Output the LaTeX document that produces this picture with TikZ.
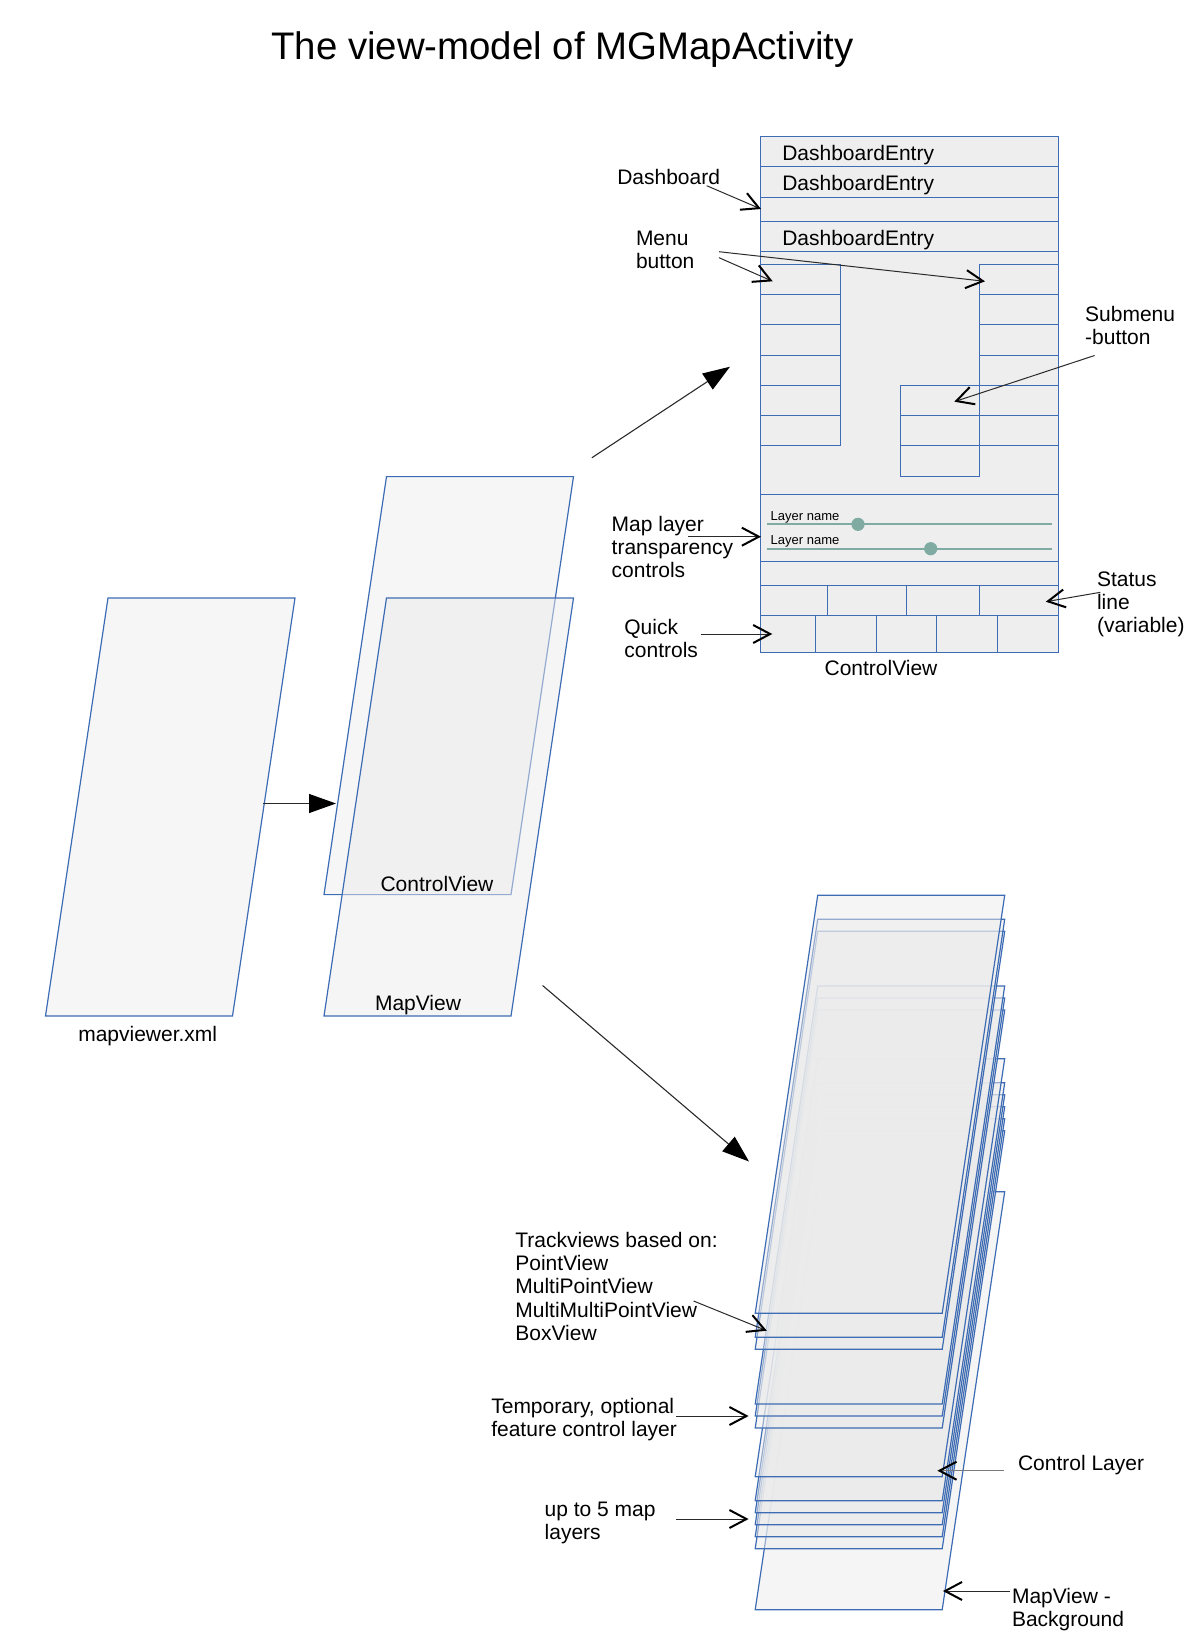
\documentclass[tikz,border=0pt]{standalone}
\usepackage{fontspec}
\setmainfont{Liberation Sans}
\usetikzlibrary{arrows.meta}

\definecolor{edgeblue}{HTML}{3E6CB4}
\definecolor{panelgray}{HTML}{EEEEEE}
\definecolor{sheetgray}{HTML}{F6F6F6}
\definecolor{glassgray}{HTML}{EBEBEB}
\definecolor{slidergreen}{HTML}{80ABA2}
\definecolor{shaftgray}{HTML}{2A2A2A}
\definecolor{softshaft}{HTML}{7A7A7A}

\tikzset{
  txt/.style={inner sep=0pt, outer sep=0pt, font=\fontsize{21}{23.4}\selectfont},
  % multi-line labels are placed by the baseline of their last line
  lbl/.style={txt, anchor=base west, align=left},
  ctr/.style={txt, anchor=base},
  small/.style={inner sep=0pt, outer sep=0pt, anchor=base west, font=\fontsize{13}{15}\selectfont},
  cell/.style={draw=edgeblue, line width=1pt},
  solidsheet/.style={draw=edgeblue, line width=1.2pt, fill=sheetgray},
  glasssheet/.style={draw=edgeblue, line width=1.2pt, fill=glassgray, fill opacity=0.5},
  pointer/.style={draw=shaftgray, line width=1pt,
     -{Straight Barb[length=17pt, width=18pt, line width=2pt, color=black]}},
  flow/.style={draw=shaftgray, line width=1.1pt,
     -{Triangle[length=27pt, width=19pt, color=black]}},
  pics/slab/.style={code={\path[#1] (0,0) -- (187,0) -- (124.5,418) -- (-62.5,418) -- cycle;}},
}

\begin{document}
\begin{tikzpicture}[x=1pt, y=-1pt]
\useasboundingbox (0,0) rectangle (1190,1642);

% heading
\node[ctr, font=\fontsize{38.4}{40}\selectfont] (title) at (562.5,59) {The view-model of MGMapActivity};

% ---------- ControlView screen layout ----------
\path[cell, fill=panelgray] (760.5,136) rectangle (1058,652);
\foreach \y in {166.7,197,221,251.3,494,561,585.3,615.7}
  \draw[cell] (760.5,\y) -- (1058,\y);
% menu columns
\draw[cell] (760.5,264) rectangle (840,445.7);
\draw[cell] (979.5,264) rectangle (1058,445.7);
\foreach \y in {294,324.3,355,385.3,415.7} {
  \draw[cell] (760.5,\y) -- (840,\y);
  \draw[cell] (979.5,\y) -- (1058,\y);
}
% submenu
\draw[cell] (900.3,385.3) rectangle (979.5,476);
\foreach \y in {415.7,445.7}
  \draw[cell] (900.3,\y) -- (979.5,\y);
% status line and quick controls
\foreach \x in {827.6,906.6,979.5}
  \draw[cell] (\x,585.3) -- (\x,615.7);
\foreach \x in {815.2,876.5,936.7,997.3}
  \draw[cell] (\x,615.7) -- (\x,652);

\node[lbl] (entryA) at (782.3,160.7) {DashboardEntry};
\node[lbl] (entryB) at (782.3,190) {DashboardEntry};
\node[lbl] (entryC) at (782.3,245) {DashboardEntry};

% transparency sliders
\node[small] (layerA) at (770.7,520) {Layer name};
\node[small] (layerB) at (770.7,544.3) {Layer name};
\draw[slidergreen, line width=2pt] (767.3,524.3) -- (1052,524.3);
\draw[slidergreen, line width=2pt] (767.3,548.7) -- (1052,548.7);
\fill[slidergreen] (858,524.3) circle (6.6);
\fill[slidergreen] (930.7,548.7) circle (6.6);

\node[ctr] (cvcaption) at (881,675) {ControlView};

% ---------- layout file and its two views ----------
\pic (xmlsheet) at (108,598) {slab={solidsheet}};
\node[ctr] (xmlname) at (147.7,1041.5) {mapviewer.xml};

\pic (cvsheet) at (386.5,476.6) {slab={solidsheet}};
\pic (mvsheet) at (386.5,598) {slab={glasssheet}};
\node[ctr] (cvname) at (437,891.5) {ControlView};
\node[ctr] (mvname) at (418,1010) {MapView};

% ---------- MapView layer stack (back to front) ----------
\foreach \t in {1191.7,1130.7,1118.7,1106.7,1094.7,1082.7,1058.7,1010,998,986,931.3,919.3,895.3}
  \pic at (817.7,\t) {slab={glasssheet}};

% ---------- flow arrows ----------
\coordinate (xmlout) at (263,803.5);
\coordinate (viewsin) at (336,803.5);
\coordinate (cvout) at (591.8,457.8);
\coordinate (panelin) at (730,366.7);
\coordinate (mvout) at (542.6,985.5);
\coordinate (stackin) at (749,1161.5);
\draw[flow] (xmlout) -- (viewsin);
\draw[flow] (cvout) -- (panelin);
\draw[flow] (mvout) -- (stackin);

% ---------- annotations of the screen ----------
\node[lbl] (dashlbl) at (617.3,184.3) {Dashboard};
\coordinate (dashfrom) at (706.7,185.7);
\coordinate (dashtip) at (761,209);
\draw[pointer] (dashfrom) -- (dashtip);

\node[lbl] (menulbl) at (636,268.4) {Menu\\button};
\coordinate (menufromA) at (719,251.7);
\coordinate (menufromB) at (719,257.7);
\coordinate (menutipA) at (985,281.3);
\coordinate (menutipB) at (772.7,281.3);
\draw[pointer] (menufromA) -- (menutipA);
\draw[pointer] (menufromB) -- (menutipB);

\node[lbl] (sublbl) at (1085.2,344.9) {Submenu\\-button};
\coordinate (subfrom) at (1094.6,355.5);
\coordinate (subtip) at (954.3,401.7);
\draw[pointer] (subfrom) -- (subtip);

\node[lbl] (maplbl) at (611.7,577.8) {Map layer\\transparency\\controls};
\coordinate (mapfrom) at (688.4,536.7);
\coordinate (maptip) at (761,536.7);
\draw[pointer] (mapfrom) -- (maptip);

\node[lbl] (statlbl) at (1097,632.8) {Status\\line\\(variable)};
\coordinate (statfrom) at (1100.4,592.3);
\coordinate (stattip) at (1045.8,601.7);
\draw[pointer] (statfrom) -- (stattip);

\node[lbl] (quicklbl) at (624.4,657.4) {Quick\\controls};
\coordinate (quickfrom) at (700.8,634);
\coordinate (quicktip) at (772.3,634);
\draw[pointer] (quickfrom) -- (quicktip);

% ---------- annotations of the layer stack ----------
\node[lbl] (tracklbl) at (515.4,1340.6) {Trackviews based on:\\PointView\\MultiPointView\\MultiMultiPointView\\BoxView};
\coordinate (trackfrom) at (693.6,1301);
\coordinate (tracktip) at (766.8,1330.7);
\draw[pointer] (trackfrom) -- (tracktip);

\node[lbl] (templbl) at (491.3,1436.7) {Temporary, optional\\feature control layer};
\coordinate (tempfrom) at (676,1416);
\coordinate (temptip) at (748.6,1416);
\draw[pointer] (tempfrom) -- (temptip);

\node[lbl] (ctrllbl) at (1018,1470) {Control Layer};
\coordinate (ctrlfrom) at (1004,1470.7);
\coordinate (ctrltip) at (937.4,1470.7);
\draw[pointer, draw=softshaft] (ctrlfrom) -- (ctrltip);

\node[lbl] (maplayerslbl) at (544.7,1539.4) {up to 5 map\\layers};
\coordinate (mlfrom) at (676,1519);
\coordinate (mltip) at (748.6,1519);
\draw[pointer] (mlfrom) -- (mltip);

\node[lbl] (bglbl) at (1012,1626.4) {MapView -\\Background};
\coordinate (bgfrom) at (1010,1591);
\coordinate (bgtip) at (942.9,1591);
\draw[pointer] (bgfrom) -- (bgtip);
\end{tikzpicture}
\end{document}
